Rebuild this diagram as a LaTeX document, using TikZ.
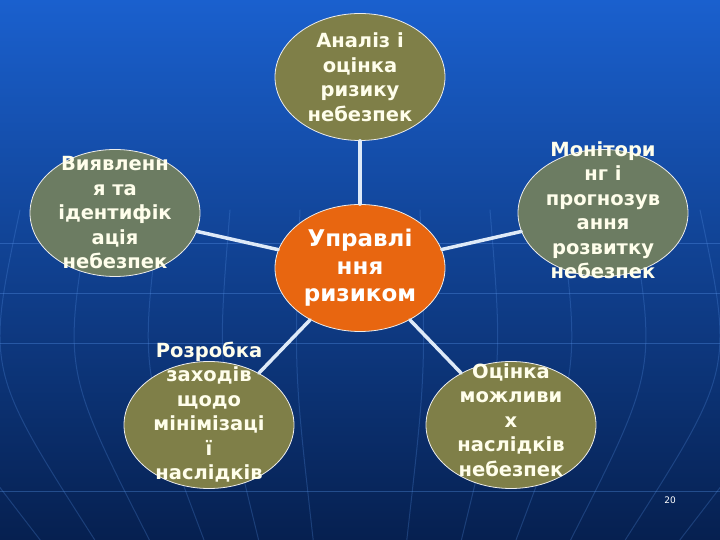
\documentclass[tikz,border=0pt]{standalone}
\usepackage{fontspec}
\setmainfont{DejaVu Sans}
\usetikzlibrary{shapes.geometric}

\definecolor{bgtop}{RGB}{26,96,206}
\definecolor{bgmid}{RGB}{14,62,152}
\definecolor{bgbot}{RGB}{6,32,80}
\definecolor{riskorange}{RGB}{232,102,16}
\definecolor{olivebub}{RGB}{127,127,72}
\definecolor{sagebub}{RGB}{108,124,98}
\definecolor{gridblue}{RGB}{90,150,235}
\definecolor{linkwhite}{RGB}{222,234,248}

\tikzset{
  bubble/.style={ellipse, draw=white!85!gray, line width=0.8pt,
    minimum width=170pt, minimum height=127pt, inner sep=0pt},
  bubtext/.style={align=center, text=white!92!yellow,
    font=\fontsize{19.5}{24.5}\selectfont\bfseries},
  link/.style={linkwhite, line width=3.5pt},
  gridline/.style={gridblue, line width=1pt, opacity=0.35},
}

\begin{document}
\begin{tikzpicture}[x=1pt, y=1pt, line cap=round, line join=round]
\useasboundingbox (0,0) rectangle (720,540);

% background
\shade[top color=bgtop, middle color=bgmid, bottom color=bgbot] (0,0) rectangle (720,540);

\foreach \y in {48,196,246,296}
  \draw[gridline] (0,\y) -- (720,\y);
\foreach \d in {-410,-340,-270,-200,-130,-60,60,130,200,270,340,410}
  \draw[gridline, opacity=0.25] (360+\d,330) .. controls (360+1.1*\d,170) .. (360+0.78*\d,0);

% bubbles
\node[bubble, fill=riskorange] (risk) at (360,272) {};
\node[bubble, fill=olivebub] (analiz) at (360,463) {};
\node[bubble, fill=sagebub] (vyyav) at (115,327) {};
\node[bubble, fill=sagebub] (monit) at (603,327) {};
\node[bubble, fill=olivebub] (rozrob) at (209,115) {};
\node[bubble, fill=olivebub] (otsin) at (511,115) {};

% links
\draw[link] (risk) -- (analiz);
\draw[link] (risk) -- (vyyav);
\draw[link] (risk) -- (monit);
\draw[link] (risk) -- (rozrob);
\draw[link] (risk) -- (otsin);

% texts
\node[align=center, text=white, font=\fontsize{23}{27.5}\selectfont\bfseries]
  at (risk) {Управлі\\ння\\ризиком};
\node[bubtext] at (analiz) {Аналіз і\\оцінка\\ризику\\небезпек};
\node[bubtext] at (vyyav) {Виявленн\\я та\\ідентифік\\ація\\небезпек};
\node[bubtext, yshift=3pt] at (monit) {Монітори\\нг і\\прогнозув\\ання\\розвитку\\небезпек};
\node[bubtext, yshift=13pt] at (rozrob) {Розробка\\заходів\\щодо\\мінімізаці\\ї\\наслідків};
\node[bubtext, yshift=5pt] at (otsin) {Оцінка\\можливи\\х\\наслідків\\небезпек};

\node[text=white, font=\fontsize{9}{10}\selectfont] (page) at (670,40) {20};
\end{tikzpicture}
\end{document}
